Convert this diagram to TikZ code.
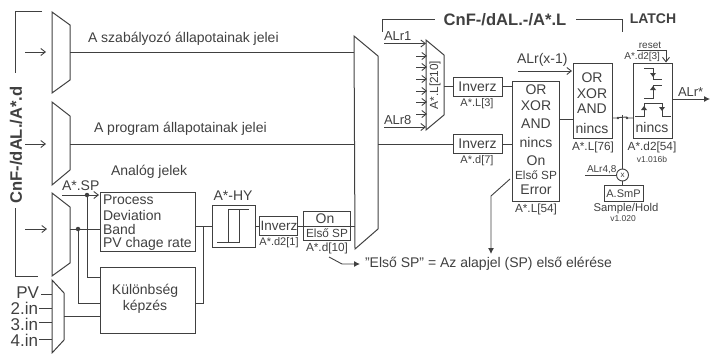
\documentclass[tikz,border=0pt]{standalone}
\usepackage{fontspec}
\setmainfont{Liberation Sans}
\usetikzlibrary{arrows.meta,calc}
\definecolor{ink}{HTML}{404040}
\tikzset{
 x=1pt,y=-1pt,
 every node/.style={text=ink,inner sep=0pt,outer sep=0pt},
 ln/.style={draw=ink,line width=0.9pt},
 box/.style={draw=ink,line width=1pt,minimum width=0pt},
 open/.style={ln,-{Straight Barb[length=4.5pt,width=7pt]}},
 solid/.style={ln,-{Latex[length=6pt,width=6pt]}},
 big/.style={font=\fontsize{14}{15}\selectfont},
 alr/.style={font=\fontsize{13}{14}\selectfont},
 mid/.style={font=\fontsize{13.5}{14}\selectfont},
 lab/.style={font=\fontsize{11.8}{13}\selectfont},
 small/.style={font=\fontsize{11}{12}\selectfont},
 fine/.style={font=\fontsize{10}{12}\selectfont},
 tiny/.style={font=\fontsize{8.5}{10}\selectfont},
 head/.style={font=\fontsize{16.6}{17}\selectfont\bfseries},
 inp/.style={font=\fontsize{17}{18}\selectfont},
 dot/.style={circle,fill=ink,minimum size=4.5pt},
 sdot/.style={circle,fill=ink,minimum size=2.6pt},
}
\newcommand{\rectbox}[5]{\node[box,anchor=north west,minimum width=#4-#2,minimum height=#5-#3] (#1) at (#2,#3) {};}
\begin{document}
\begin{tikzpicture}
\useasboundingbox (0,0) rectangle (711,353);
% muxes
\draw[ln,line width=1pt] (52,12)--(70,25)--(70,80)--(52,93)--cycle;
\draw[ln,line width=1pt] (52,102)--(70,116)--(70,170)--(52,185)--cycle;
\draw[ln,line width=1pt] (52,193)--(70,207)--(70,263)--(52,276)--cycle;
\draw[ln,line width=1pt] (52,280)--(64,293)--(64,340)--(52,353)--cycle;
\draw[ln,line width=1pt] (354,36)--(378,56)--(378,229)--(355,249)--cycle;
\draw[ln,line width=1pt] (426,40)--(444,55)--(444,115)--(426,130)--cycle;
\coordinate (m1o) at (70,52); \coordinate (m2o) at (70,144); \coordinate (m3o) at (70,229);
\coordinate (m4o) at (64,316); \coordinate (bigA) at (354,52); \coordinate (bigB) at (354,144);
\coordinate (bigC) at (355,226); \coordinate (bigO) at (378,144); \coordinate (m5o) at (444,86);
% side brackets and headings
\draw[ln] (42,11)--(15,11)--(15,73);
\draw[ln] (15,208)--(15,276)--(38,276);
\node[head,rotate=90] (hd) at (16,145) {CnF-/dAL./A*.d};
\node[head] (ht) at (505,20) {CnF-/dAL.-/A*.L};
\node[font=\fontsize{14}{15}\selectfont\bfseries] (lt) at (653,19) {LATCH};
\draw[ln] (382,32)--(382,19)--(435,19);
\draw[ln] (576,19)--(622,19)--(622,32);
% input arrows
\coordinate (i1) at (25,52); \coordinate (i1e) at (46,52);
\coordinate (i2) at (25,144); \coordinate (i2e) at (46,144);
\coordinate (i3) at (25,229); \coordinate (i3e) at (47,229);
\draw[open] (i1)--(i1e); \draw[open] (i2)--(i2e); \draw[open] (i3)--(i3e);
% signal lines
\draw[ln] (m1o)--(bigA);
\draw[ln] (m2o)--(bigB);
\node[big,anchor=west] (t1) at (88,39) {A szabályozó állapotainak jelei};
\node[big,anchor=west] (t2) at (94,129) {A program állapotainak jelei};
\node[big,anchor=west] (t3) at (111,172) {Analóg jelek};
\node[big,anchor=west] (t4) at (62,186) {A*.SP};
% left blocks
\rectbox{proc}{100}{192}{195}{251}
\rectbox{kul}{100}{267}{195}{333}
\node[big,anchor=west] (p1) at (103,200) {Process};
\node[big,anchor=west] (p2) at (103,215) {Deviation};
\node[big,anchor=west] (p3) at (103,229) {Band};
\node[big,anchor=west] (p4) at (103,244) {PV chage rate};
\node[big] (k1) at (145,291) {Különbség};
\node[big] (k2) at (145,307) {képzés};
\coordinate (d1) at (78,229); \coordinate (d2) at (87,195);
\coordinate (spS) at (62,195); \coordinate (spE) at (99,195);
\draw[ln] (m3o)--(100,229);
\draw[open] (spS)--(spE);
\draw[ln] (d1)|-(100,303);
\draw[ln] (d2)|-(100,277);
\node[dot] (dd1) at (d1) {}; \node[dot] (dd2) at (d2) {};
\draw[ln] (m4o)--(100,316);
\node[inp,anchor=east] (pv) at (39,293) {PV};
\node[inp,anchor=east] (in2) at (38,308) {2.in};
\node[inp,anchor=east] (in3) at (38,324) {3.in};
\node[inp,anchor=east] (in4) at (38,340) {4.in};
\draw[ln] (41,294)--(52,294) (39,308)--(52,308) (39,322)--(52,322) (39,339)--(52,339);
% hysteresis
\node[big] (hyt) at (233,196) {A*-HY};
\rectbox{hy}{212}{205}{255}{247}
\draw[ln] (195,226)--(212,226);
\draw[ln] (195,303)--(203,303)--(203,226);
\draw[ln] (217,242)--(239,242)--(239,209)--(249,209) (228,242)--(228,209)--(239,209);
% inverz, on
\rectbox{inv1}{259}{216}{297}{235}
\node[mid] (inv1t) at (279,226) {Inverz};
\node[small] (l1) at (279,243) {A*.d2[1]};
\rectbox{on}{303}{211}{350}{240}
\node[big] (ont) at (325,219) {On};
\node[lab] (ont2) at (327,233) {Első SP};
\node[lab] (l2) at (327,248) {A*.d[10]};
\draw[ln] (255,226)--(259,226);
\draw[ln] (297,226)--(bigC);
\coordinate (nS) at (329,257); \coordinate (nE) at (360,264);
\draw[solid] (nS)--(342,264)--(nE);
\node[big,anchor=west] (note) at (365,264) {"Első SP" = Az alapjel (SP) első elérése};
% ALr inputs
\node[alr,anchor=west] (a1) at (384,36) {ALr1};
\node[alr,anchor=west] (a8) at (384,120) {ALr8};
\draw[open] (384,43.5)--(426,43.5);
\draw[open] (384,127)--(426,127);
\foreach \y in {56,67,79,91,102,114}{\draw[open] (416,\y)--(427,\y);}
\node[lab,rotate=90] (mt) at (435,85) {A*.L[210]};
% inverz top
\rectbox{inv2}{453}{77}{502}{96}
\node[big] (inv2t) at (477.5,87) {Inverz};
\node[small] (l3) at (477,104) {A*.L[3]};
\rectbox{inv3}{453}{134}{502}{153}
\node[big] (inv3t) at (477.5,144) {Inverz};
\node[small] (l4) at (477,161) {A*.d[7]};
\draw[ln] (m5o)--(453,86);
\draw[ln] (bigO)--(453,144);
% OR boxes
\rectbox{or1}{512}{81}{559}{201}
\draw[ln] (502,86)--(512,86) (502,144)--(512,144);
\node[big] at (536,90) (o1) {OR};
\node[big] at (536,106) (o2) {XOR};
\node[big] at (536,124) (o3) {AND};
\node[big] at (536,142) (o4) {nincs};
\node[big] at (536,161) (o5) {On};
\node[lab] at (536,175) (o6) {Első SP};
\node[big] at (536,190) (o7) {Error};
\node[lab] at (536,209) (l5) {A*.L[54]};
\coordinate (eS) at (510,179); \coordinate (eE) at (491,254);
\draw[solid] (eS)--(491,196)--(eE);
\rectbox{or2}{573}{63}{612}{138}
\node[big] at (592,78) (q1) {OR};
\node[big] at (592,94) (q2) {XOR};
\node[big] at (592,109) (q3) {AND};
\node[big] at (592,128) (q4) {nincs};
\node[lab] at (593,147) (l6) {A*.L[76]};
\draw[ln] (559,119)--(573,119);
\node[big,anchor=west] (ax) at (517,60) {ALr(x-1)};
\draw[open] (518,71)--(572,71);
% latch
\rectbox{lat}{633}{63}{672}{138}
\node[big] at (652,127) (n1) {nincs};
\node[lab] at (652,147) (l7) {A*.d2[54]};
\node[tiny] at (652,159) (l8) {v1.016b};
\node[fine] at (650,45) (r1) {reset};
\draw[ln] (637,50)--(666,50);
\draw[open] (666,50)--(666,62.5);
\node[fine,anchor=east] at (660,57) (r2) {A*.d2[3]};
\draw[ln] (644,68)--(653,68)--(653,79)--(662,79);
\draw[ln] (644,98)--(653,98)--(653,85)--(662,85);
\draw[ln] (635,116)--(644,116)--(644,103)--(662,103)--(662,116)--(671,116);
\fill[ink] (650,73)--(656,73)--(653,77)--cycle;
\fill[ink] (650,90)--(656,90)--(653,86)--cycle;
\fill[ink] (641,110)--(647,110)--(644,106)--cycle;
\fill[ink] (659,107)--(665,107)--(662,111)--cycle;
\draw[solid] (672,99)--(710,99);
\node[alr,anchor=west] (ar) at (678,92) {ALr*};
% switch
\draw[ln] (612,118)--(618,118) (619,117.5)--(627,117) (627,118)--(633,118);
\node[sdot] (s1) at (618,118) {}; \node[sdot] (s2) at (627,118) {};
\node[draw=ink,line width=0.9pt,circle,minimum size=12pt,font=\fontsize{8}{9}\selectfont] (x) at (622.5,175) {x};
\draw[ln] (622.5,115)--(x);
\node[fine,anchor=west] (a48) at (587,170) {ALr4,8};
\draw[ln] (585,175)--(x);
\rectbox{smp}{604}{185}{643}{201}
\node[small] (smpt) at (623.5,194) {A.SmP};
\draw[ln] (x)--(622.5,185);
\node[font=\fontsize{11.3}{13}\selectfont] (sh) at (626,209) {Sample/Hold};
\node[tiny] (v2) at (623,219) {v1.020};
\end{tikzpicture}
\end{document}
